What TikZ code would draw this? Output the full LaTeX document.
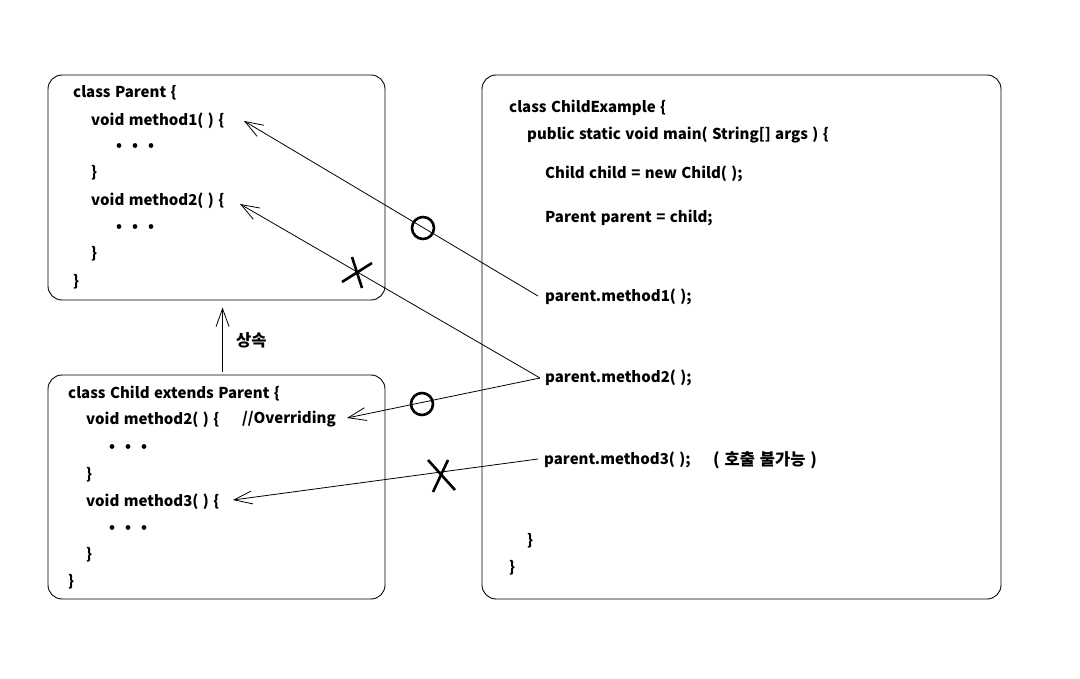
\documentclass[tikz,border=0pt]{standalone}
\usepackage{fontspec}
\setmainfont{Noto Sans CJK KR}[WordSpace=1.3]
\usetikzlibrary{arrows.meta,calc}
\begin{document}
\begin{tikzpicture}[x=1pt,y=-1pt,
  txt/.style={anchor=west, inner sep=0pt, text height=11pt, text depth=3pt,
              font=\fontsize{15}{17}\selectfont\bfseries},
  hangul/.style={txt, font=\fontsize{16.5}{18}\selectfont\bfseries},
  box/.style={draw, rounded corners=14pt, line width=0.9pt, inner sep=0pt},
  link/.style={line width=0.8pt, -{Straight Barb[length=18pt,width=13pt]}},
  okmark/.style={draw, circle, line width=2.6pt, minimum size=22pt, inner sep=0pt},
  xstroke/.style={line width=2.6pt}
]
\useasboundingbox[fill=white] (0,0) rectangle (1080,679);

% class boxes
\node[box, minimum width=337pt, minimum height=225pt] (parentbox) at (216.5,187.5) {};
\node[box, minimum width=337pt, minimum height=224pt] (childbox)  at (216.5,487) {};
\node[box, minimum width=519pt, minimum height=524pt] (mainbox)   at (741.5,337) {};

% class Parent
\node[txt] (pcls) at (73,94)  {class Parent \{};
\node[txt] (pm1)  at (91,122) {void method1( ) \{};
\node[txt] (pd1)  at (116,147) {•\hspace{10pt}•\hspace{10pt}•};
\node[txt] (pe1)  at (91,174) {\}};
\node[txt] (pm2)  at (91,202) {void method2( ) \{};
\node[txt] (pd2)  at (116,228) {•\hspace{10pt}•\hspace{10pt}•};
\node[txt] (pe2)  at (91,255) {\}};
\node[txt] (pend) at (73,283) {\}};

% class Child
\node[txt] (ccls) at (68,394)  {class Child extends Parent \{};
\node[txt] (cm2)  at (86,420)  {void method2( ) \{};
\node[txt] (cov)  at (242,419) {//Overriding};
\node[txt] (cd2)  at (109,447) {•\hspace{10pt}•\hspace{10pt}•};
\node[txt] (ce2)  at (86,475)  {\}};
\node[txt] (cm3)  at (86,502)  {void method3( ) \{};
\node[txt] (cd3)  at (109,528) {•\hspace{10pt}•\hspace{10pt}•};
\node[txt] (ce3)  at (86,555)  {\}};
\node[txt] (cend) at (68,582)  {\}};

% class ChildExample
\node[txt] (mcls)  at (509,109) {class ChildExample \{};
\node[txt] (mmain) at (527,136) {public static void main( String[] args ) \{};
\node[txt] (mnew)  at (545,175) {Child child = new Child( );};
\node[txt] (mcast) at (545,219) {Parent parent = child;};
\node[txt] (call1) at (545,298) {parent.method1( );};
\node[txt] (call2) at (545,378) {parent.method2( );};
\node[txt] (call3) at (544,460) {parent.method3( );};
\node[hangul] (nocall) at (713,461) {( 호출 불가능 )};
\node[txt] (mend1) at (527,541) {\}};
\node[txt] (mend2) at (509,568) {\}};

% inheritance
\node[hangul] (inh) at (236,342) {상속};
\coordinate (inhfrom) at ($(childbox.north west)+(175,-3)$);
\coordinate (inhto)   at ($(parentbox.south west)+(175,7)$);
\draw[link] (inhfrom) -- (inhto);

% call targets
\coordinate (t1)  at (244,121);
\coordinate (t2)  at (240,204);
\coordinate (t2c) at (347,418);
\coordinate (t3)  at (233,500);

\draw[link] ($(call1.west)+(-7,-2)$) -- (t1);
\draw[link] ($(call2.west)+(-5,0)$) -- (t2);
\draw[link] ($(call2.west)+(-5,0)$) -- (t2c);
\draw[link] ($(call3.west)+(-6,-1)$) -- (t3);

% allowed / not allowed marks
\node[okmark] (ok1) at (423,228) {};
\node[okmark] (ok2) at (422,404) {};
\coordinate (no1) at (356,272);
\coordinate (no2) at (441,476);
\draw[xstroke] (no1) ++(-4,-15) -- ++(10,31);
\draw[xstroke] (no1) ++(-14,10) -- ++(30,-19);
\draw[xstroke] (no2) ++(-13,-16) -- ++(27,30);
\draw[xstroke] (no2) ++(7,-16) -- ++(-15,32);
\end{tikzpicture}
\end{document}
